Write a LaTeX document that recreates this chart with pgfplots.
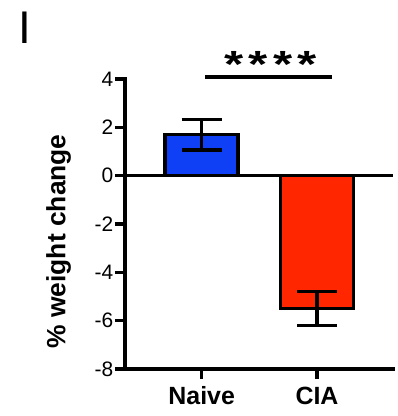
\documentclass[border=0pt]{standalone}
\usepackage{fontspec}
\setmainfont{Liberation Sans}
\usepackage{pgfplots}
\pgfplotsset{compat=1.18}
\definecolor{naiveblue}{RGB}{16,64,245}
\definecolor{ciared}{RGB}{255,38,0}
\begin{document}
\begin{tikzpicture}
\useasboundingbox (-125bp,-47bp) rectangle (273bp,369bp);
\begin{axis}[
  at={(0,0)}, anchor=south west,
  scale only axis, width=268bp, height=290bp,
  xmin=-0.665, xmax=1.659, ymin=-8, ymax=4,
  axis x line=bottom, axis y line=left,
  axis line style={-, line width=3.4bp, line cap=rect},
  xtick={0,1}, xticklabels={Naive,CIA},
  ytick={-8,-6,-4,-2,0,2,4}, yticklabels={-8,-6,-4,-2,0,2,4},
  tick align=outside, major tick length=10bp,
  tick style={line width=3.4bp, black},
  xticklabel style={font=\fontsize{25}{25}\selectfont\bfseries, inner sep=2.5bp, yshift=-5bp},
  yticklabel style={font=\fontsize{21}{21}\selectfont, inner sep=1.5bp},
  ylabel={\% weight change},
  ylabel style={font=\fontsize{26.5}{26.5}\selectfont\bfseries, at={(axis description cs:-0.248,0.44)}, anchor=center},
  clip=false,
  ybar, bar width=73bp, bar shift=0pt,
]
\addplot[ybar, fill=naiveblue, draw=black, line width=3.4bp,
  error bars/.cd, y dir=both, y explicit,
  error bar style={line width=3.4bp, black},
  error mark options={rotate=90, mark size=20bp, line width=3.4bp, black}]
  coordinates {(0,1.7) +- (0,0.63)};
\addplot[ybar, fill=ciared, draw=black, line width=3.4bp,
  error bars/.cd, y dir=both, y explicit,
  error bar style={line width=3.4bp, black},
  error mark options={rotate=90, mark size=20bp, line width=3.4bp, black}]
  coordinates {(1,-5.5) +- (0,0.7)};
\addplot[sharp plot, black, line width=3.4bp, mark=none] coordinates {(-0.665,0) (1.659,0)};
\draw[line width=4bp] (axis cs:0.029,4.10) -- (axis cs:1.127,4.10);
\node[inner sep=0pt] at (axis cs:0.597,4.62) {\fontsize{38}{38}\selectfont\bfseries\scalebox{1.3}[1]{*\hspace{4bp}*\hspace{4bp}*\hspace{4bp}*}};
\end{axis}
\node[anchor=base west, inner sep=0pt, font=\fontsize{46}{46}\selectfont] at (-106.6bp,325bp) {I};
\end{tikzpicture}
\end{document}
